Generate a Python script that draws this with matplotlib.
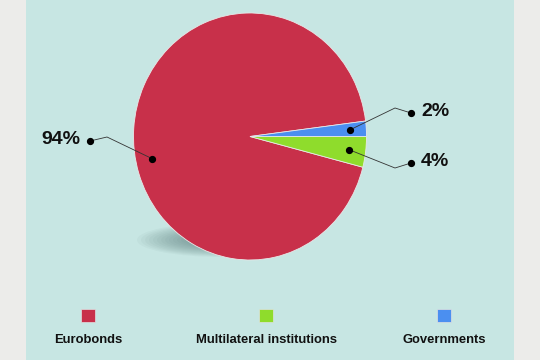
import numpy as np
import matplotlib
matplotlib.use("Agg")
import matplotlib.pyplot as plt
from matplotlib.patches import Rectangle, Ellipse

categories = ["Eurobonds", "Multilateral institutions", "Governments"]
shares = [94, 4, 2]
labels = ["94%", "4%", "2%"]
colors = ["#c8304a", "#8fdc2c", "#4b8ff0"]

plt.rcParams['font.family'] = ['Liberation Sans', 'DejaVu Sans']

W, H = 540, 360
fig = plt.figure(figsize=(5.4, 3.6), dpi=100)
fig.patch.set_facecolor("#ececea")

# overlay axes in pixel coordinates
ov = fig.add_axes([0, 0, 1, 1])
ov.set_xlim(0, W)
ov.set_ylim(H, 0)
ov.axis("off")
ov.add_patch(Rectangle((26, -5), 488, 370, facecolor="#c7e6e3", edgecolor="none", zorder=0))

# soft shadow under pie
for i in range(16):
    ov.add_patch(Ellipse((222, 240), 170 - i * 8, 34 - i * 1.7,
                         facecolor="#3f6261", edgecolor="none", alpha=0.045, zorder=1))

# pie geometry (pixels)
cx, cy = 250, 136.5
rx, ry = 116.5, 123.5
pie_ax = fig.add_axes([(cx - rx) / W, (H - cy - ry) / H, 2 * rx / W, 2 * ry / H])
start = 360 * shares[2] / 100
wedges, _ = pie_ax.pie(shares, colors=colors, startangle=start, counterclock=True,
                       wedgeprops=dict(edgecolor="#e8e8e8", linewidth=0.6))
pie_ax.set_xlim(-1, 1)
pie_ax.set_ylim(-1, 1)
pie_ax.set_aspect("auto")
pie_ax.axis("off")
pie_ax.set_zorder(2)
ov.set_zorder(1)

# annotation overlay on top
top = fig.add_axes([0, 0, 1, 1])
top.set_xlim(0, W)
top.set_ylim(H, 0)
top.axis("off")
top.set_zorder(3)

def inner(angle_deg, frac=0.86):
    a = np.deg2rad(angle_deg)
    return cx + frac * rx * np.cos(a), cy - frac * ry * np.sin(a)

mids = [(w.theta1 + w.theta2) / 2 for w in wedges]
dot_angles = [192, mids[1], mids[2]]
outer_dots = [(90, 141), (411, 163), (411, 113)]
elbows = [(107, 137), (395, 168), (395, 108)]
for i in range(3):
    px, py = inner(dot_angles[i])
    ox, oy = outer_dots[i]
    ex, ey = elbows[i]
    top.plot([px, ex, ox], [py, ey, oy], color="#333333", lw=0.6)
    top.plot([px, ox], [py, oy], "o", color="black", ms=4.2, lw=0)
    if i == 0:
        top.text(ox - 10, oy - 1, labels[i], ha="right", va="center", fontsize=14,
                 fontweight="bold", color="#111111")
    else:
        top.text(ox + 10, oy - 1, labels[i], ha="left", va="center", fontsize=14,
                 fontweight="bold", color="#111111")

# legend
leg_x = [88, 266, 444]
for i in range(3):
    top.add_patch(Rectangle((leg_x[i] - 7, 309), 14, 13, facecolor=colors[i],
                            edgecolor="#e0e0e0", lw=0.5))
    top.text(leg_x[i], 340, categories[i], ha="center", va="center", fontsize=9.4,
             fontweight="bold", color="#111111")

fig.savefig("out.png", dpi=100)
